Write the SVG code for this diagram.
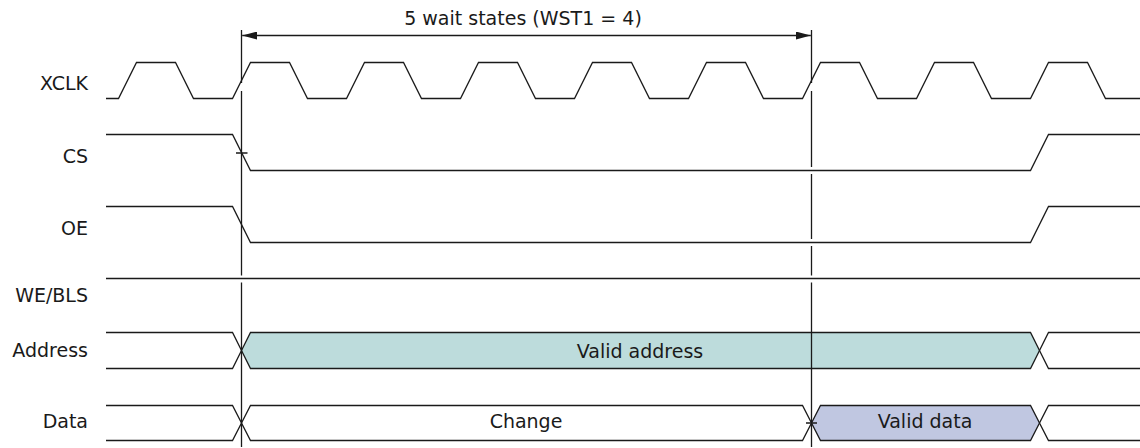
<svg xmlns="http://www.w3.org/2000/svg" width="1140" height="448" viewBox="0 0 1140 448">
<style>
.lbl{font-family:"DejaVu Sans","Liberation Sans",sans-serif;font-size:19px;fill:#1a1a1a}
.end{text-anchor:end}
.mid{text-anchor:middle}
.w{fill:none;stroke:#1a1a1a;stroke-width:1.3;stroke-linejoin:miter}
.addr{fill:#bddcdc;stroke:#1a1a1a;stroke-width:1.3}
.dat{fill:#c0c7e1;stroke:#1a1a1a;stroke-width:1.3}
.v{stroke:#1a1a1a;stroke-width:1.3;fill:none}
</style>
<defs>
<marker id="ah" viewBox="0 0 15 8" refX="15" refY="4" markerWidth="15" markerHeight="8" markerUnits="userSpaceOnUse" orient="auto-start-reverse">
<path d="M0,0 L15,4 L0,8 Z" fill="#1a1a1a"/>
</marker>
</defs>
<rect width="1140" height="448" fill="#ffffff"/>

<g id="xclk">
<text class="lbl end" x="88" y="90">XCLK</text>
<path class="w" d="M106,98.5 H118.5 L136.5,62.5 H175.5 L193.5,98.5 H232.5 L250.5,62.5 H289.5 L307.5,98.5 H346.5 L364.5,62.5 H403.5 L421.5,98.5 H460.5 L478.5,62.5 H517.5 L535.5,98.5 H574.5 L592.5,62.5 H631.5 L649.5,98.5 H688.5 L706.5,62.5 H745.5 L763.5,98.5 H802.5 L820.5,62.5 H859.5 L877.5,98.5 H916.5 L934.5,62.5 H973.5 L991.5,98.5 H1030.5 L1048.5,62.5 H1087.5 L1105.5,98.5 H1140"/>
</g>

<g id="cs">
<text class="lbl end" x="88" y="162.5">CS</text>
<path class="w" d="M106,134.5 H232.5 L250.5,170.5 H1030.5 L1048.5,134.5 H1140"/>
</g>

<g id="oe">
<text class="lbl end" x="88" y="235">OE</text>
<path class="w" d="M106,206.5 H232.5 L250.5,242.5 H1030.5 L1048.5,206.5 H1140"/>
</g>

<g id="we-bls">
<text class="lbl end" x="88" y="301.5">WE/BLS</text>
<path class="w" d="M106,278.5 H1140"/>
</g>

<g id="address">
<text class="lbl end" x="88" y="356.5">Address</text>
<path class="w" d="M106,332.5 H232.5 L241.5,350.5 L232.5,368.5 H106"/>
<path class="addr" d="M241.5,350.5 L250.5,332.5 H1030.5 L1039.5,350.5 L1030.5,368.5 H250.5 Z"/>
<path class="w" d="M1140,332.5 H1048.5 L1039.5,350.5 L1048.5,368.5 H1140"/>
<text class="lbl mid" x="640" y="358">Valid address</text>
</g>

<g id="data">
<text class="lbl end" x="88" y="428.3">Data</text>
<path class="w" d="M106,405.5 H232.5 L241.5,423 L232.5,440.5 H106"/>
<path class="w" d="M241.5,423 L250.5,405.5 H802.5 L811.5,423 L802.5,440.5 H250.5 Z"/>
<path class="dat" d="M811.5,423 L820.5,405.5 H1030.5 L1039.5,423 L1030.5,440.5 H820.5 Z"/>
<path class="w" d="M1140,405.5 H1048.5 L1039.5,423 L1048.5,440.5 H1140"/>
<text class="lbl mid" x="526" y="428.3">Change</text>
<text class="lbl mid" x="925" y="428.3">Valid data</text>
</g>

<g id="connectors">
<path class="v" d="M241.5,30 V83 M241.5,91 V275.5 M241.5,282.5 V447"/>
<path class="v" d="M811.5,30 V83 M811.5,91 V167 M811.5,174 V239 M811.5,246 V275.5 M811.5,282.5 V447"/>
<path class="v" d="M236,153 H247.5 M806,423 H817"/>
<path class="v" d="M242.2,35.5 H810.8" marker-start="url(#ah)" marker-end="url(#ah)"/>
<text class="lbl mid" x="523" y="25">5 wait states (WST1 = 4)</text>
</g>
</svg>
